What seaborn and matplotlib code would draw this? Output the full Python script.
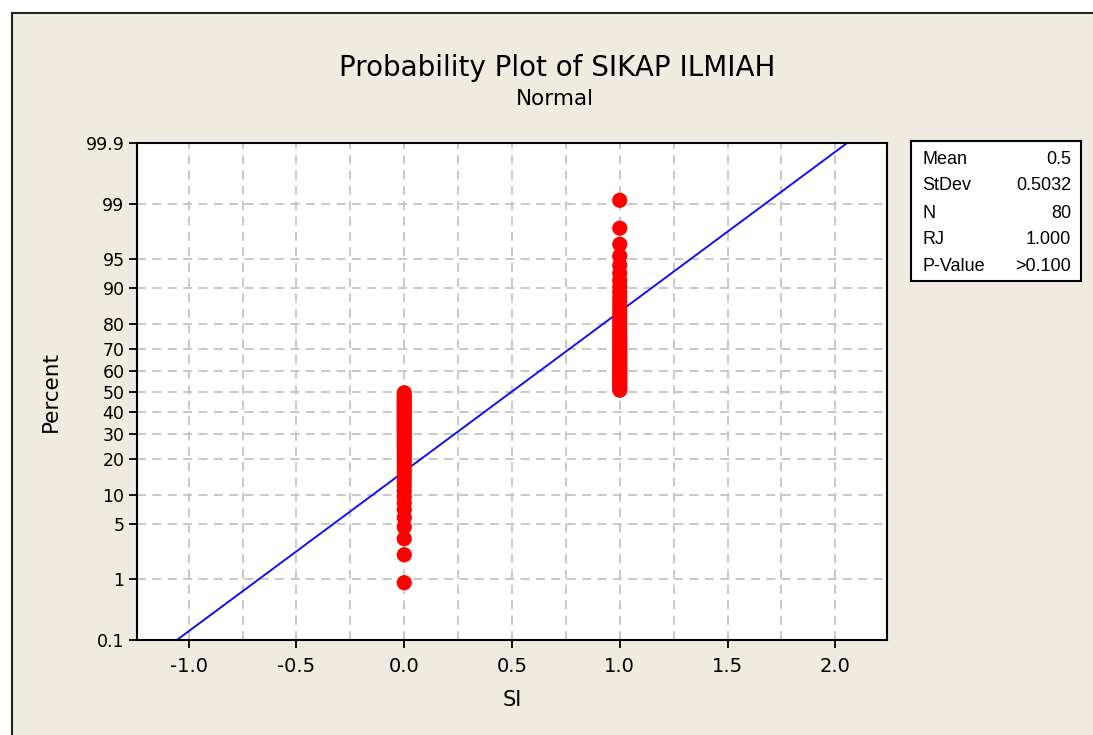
import numpy as np
import pandas as pd
import seaborn as sns
import matplotlib.pyplot as plt
from matplotlib.patches import Rectangle
from statistics import NormalDist

# ---------------------------------------------------------
# data (SIKAP ILMIAH, variable SI)
# ---------------------------------------------------------
si_values = [0] * 40 + [1] * 40
fit_mean = 0.5
fit_stdev = 0.5032
stat_labels = ["Mean", "StDev", "N", "RJ", "P-Value"]
stat_values = ["0.5", "0.5032", "80", "1.000", ">0.100"]
pct_ticks = [0.1, 1, 5, 10, 20, 30, 40, 50, 60, 70, 80, 90, 95, 99, 99.9]
pct_tick_labels = ["0.1", "1", "5", "10", "20", "30", "40", "50", "60", "70", "80", "90", "95", "99", "99.9"]
x_ticks = [-1.0, -0.5, 0.0, 0.5, 1.0, 1.5, 2.0]

nd = NormalDist()

# median rank plotting positions (Minitab default)
x_sorted = np.sort(np.array(si_values, dtype=float))
n = len(x_sorted)
ranks = np.arange(1, n + 1)
pp = (ranks - 0.3) / (n + 0.4)
df = pd.DataFrame({"SI": x_sorted, "z": [nd.inv_cdf(p) for p in pp]})

# fitted normal line from 0.1 to 99.9 percent
z_lo, z_hi = nd.inv_cdf(0.001), nd.inv_cdf(0.999)
line_df = pd.DataFrame({"SI": [fit_mean + fit_stdev * z_lo, fit_mean + fit_stdev * z_hi],
                        "z": [z_lo, z_hi]})

sns.set_style("white")
plt.rcParams['font.family'] = ['DejaVu Sans']
plt.rcParams['text.color'] = 'black'
plt.rcParams['axes.labelcolor'] = 'black'
plt.rcParams['xtick.color'] = 'black'
plt.rcParams['ytick.color'] = 'black'

bg = "#EFEBE1"
fig = plt.figure(figsize=(10.93, 7.35), dpi=100, facecolor="white")
fig.patches.append(Rectangle((12 / 1093, -0.05), 1.1, (735 - 13) / 735 + 0.05,
                             transform=fig.transFigure, facecolor=bg,
                             edgecolor="#222222", linewidth=1.5, zorder=-10))

ax = fig.add_axes([137 / 1093, (735 - 640) / 735, 750 / 1093, 497 / 735])
ax.set_facecolor("white")

# grid
for xv in np.arange(-1.0, 2.01, 0.25):
    ax.axvline(xv, color="#C4C4C4", lw=1.3, ls=(0, (5, 3.5)), zorder=0)
for p in pct_ticks[1:-1]:
    ax.axhline(nd.inv_cdf(p / 100), color="#C4C4C4", lw=1.3, ls=(0, (5, 3.5)), zorder=0)

sns.lineplot(data=line_df, x="SI", y="z", color="#1010F0", lw=1.4, ax=ax, zorder=2)
sns.scatterplot(data=df, x="SI", y="z", color="#FF0000", s=120, edgecolor="none", ax=ax, zorder=3)

ax.set_xlim(-1.24, 2.24)
ax.set_ylim(z_lo, z_hi)
ax.set_xticks(x_ticks)
ax.set_xticklabels([f"{v:.1f}" for v in x_ticks], fontsize=14)
ax.set_yticks([nd.inv_cdf(p / 100) for p in pct_ticks])
ax.set_yticklabels(pct_tick_labels, fontsize=12.5)
ax.tick_params(axis="both", direction="out", length=6, width=1.3, color="black", left=True, bottom=True)
ax.tick_params(axis="x", pad=6)
ax.tick_params(axis="y", pad=3)
for s in ax.spines.values():
    s.set_color("black")
    s.set_linewidth(1.5)

ax.set_xlabel("SI", fontsize=15, labelpad=10)
ax.set_ylabel("Percent", fontsize=15.5, labelpad=18)

fig.text(557 / 1093, 1 - 68 / 735, "Probability Plot of SIKAP ILMIAH", ha="center", va="center", fontsize=20)
fig.text(555 / 1093, 1 - 99 / 735, "Normal", ha="center", va="center", fontsize=15.5)

# stats box
bx = fig.add_axes([911 / 1093, (735 - 281) / 735, 170 / 1093, 140 / 735])
bx.set_facecolor("white")
bx.set_xticks([])
bx.set_yticks([])
for s in bx.spines.values():
    s.set_color("black")
    s.set_linewidth(1.5)
row_y = [160, 186, 213, 240, 267]
for lab, val, yy in zip(stat_labels, stat_values, row_y):
    fy = (281 - yy) / 140
    bx.text(11 / 170, fy, lab, ha="left", va="center", fontsize=13,
            family=["Liberation Sans", "DejaVu Sans"], transform=bx.transAxes)
    bx.text(160 / 170, fy, val, ha="right", va="center", fontsize=13,
            family=["Liberation Sans", "DejaVu Sans"], transform=bx.transAxes)

fig.savefig("out.png", dpi=100, facecolor=fig.get_facecolor())
